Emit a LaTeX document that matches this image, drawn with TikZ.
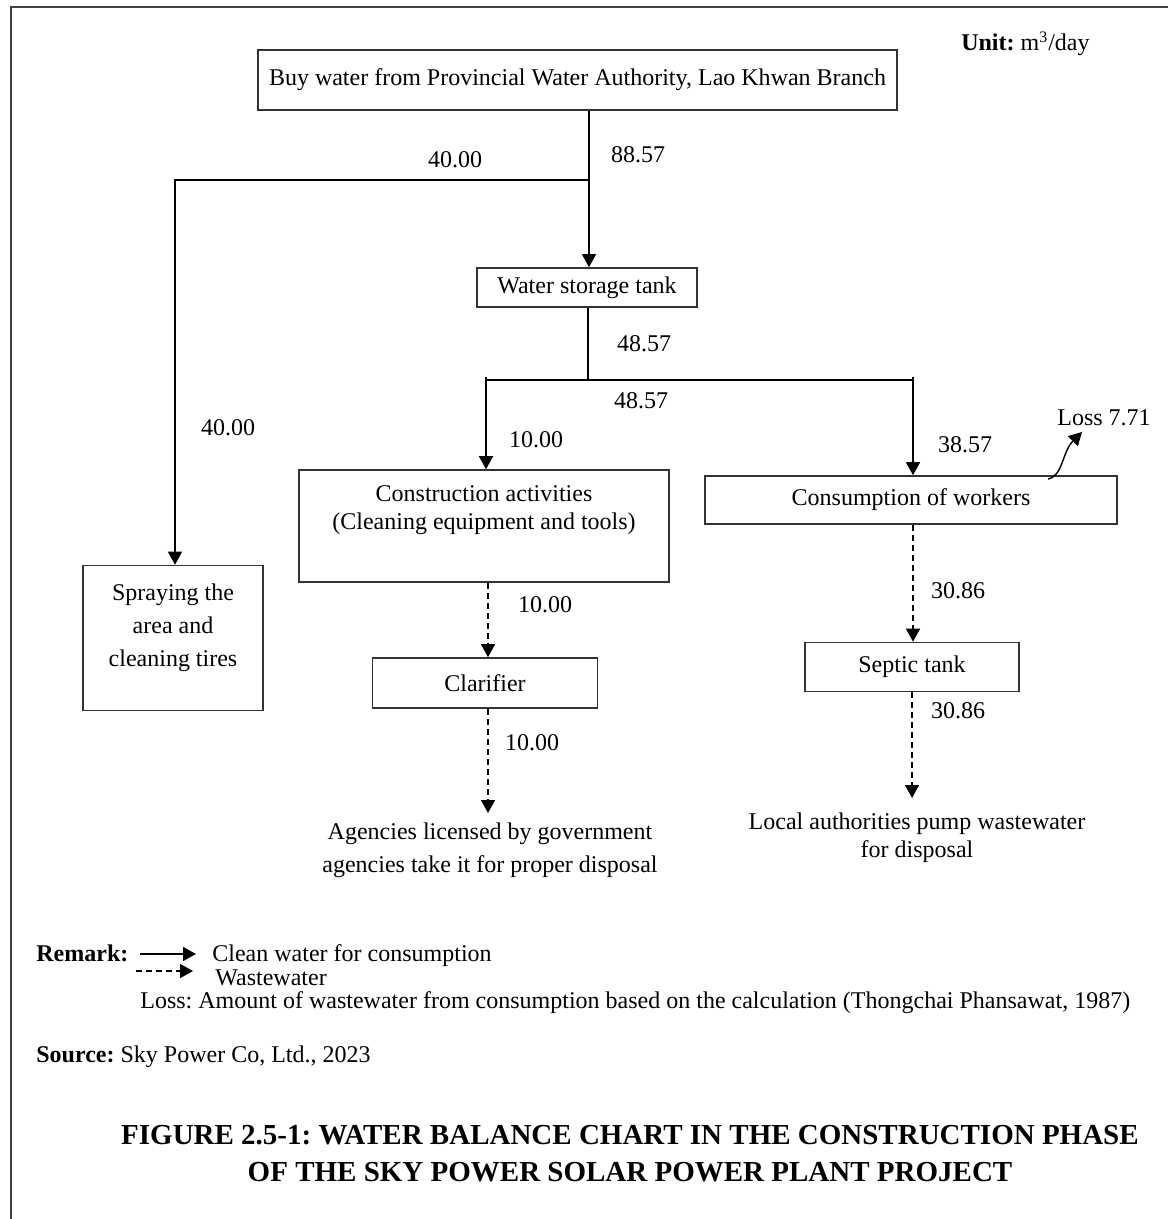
\documentclass[tikz,border=0pt]{standalone}
\usepackage{fontspec}
\setmainfont{Liberation Serif}
\usetikzlibrary{arrows.meta}
\begin{document}
\frenchspacing
\begin{tikzpicture}[x=0.5pt,y=-0.5pt,
  every node/.style={font=\fontsize{12}{16.5}\selectfont, inner sep=0pt},
  box/.style={draw=black!80, line width=0.8pt},
  flow/.style={line width=0.7pt, -{Triangle[length=6.5pt,width=7pt]}},
  plain/.style={line width=0.7pt},
  waste/.style={flow, dash pattern=on 3pt off 2pt},
  lbl/.style={anchor=center},
  frameline/.style={draw=black!75, line width=1pt}]
\useasboundingbox (0,0) rectangle (1168,1219);
% frame
\coordinate (fTL) at (11,7);
\coordinate (fTR) at (1168,7);
\coordinate (fBL) at (11,1219);
\draw[frameline] (fBL) -- (fTL) -- (fTR);

\node[anchor=base east] (unit) at (1090,51) {\textbf{Unit:} m\textsuperscript{3}/day};

% boxes
\node[box, minimum width=319.5pt, minimum height=30pt] (buy) at (577.5,80) {Buy water from Provincial Water Authority, Lao Khwan Branch};
\node[box, minimum width=110pt, minimum height=19.5pt] (stor) at (587,287.5) {Water storage tank};
\node[box, minimum width=185pt, minimum height=56pt] (cons) at (484,526) {};
\node[align=center, font=\fontsize{12}{13.8}\selectfont] (constext) at (484,510) {Construction activities\\(Cleaning equipment and tools)};
\node[box, minimum width=206pt, minimum height=24pt] (work) at (911,500) {Consumption of workers};
\node[box, minimum width=90pt, minimum height=72.5pt] (spray) at (173,638) {};
\node[align=center] (spraytext) at (173,628) {Spraying the\\area and\\cleaning tires};
\node[box, minimum width=112.5pt, minimum height=25pt] (clar) at (485,683) {Clarifier};
\node[box, minimum width=107pt, minimum height=24.5pt] (sept) at (912,667) {Septic tank};

\node[align=center] (agency) at (490,850) {Agencies licensed by government\\agencies take it for proper disposal};
\node[align=center, font=\fontsize{12}{14}\selectfont] (local) at (917,838) {Local authorities pump wastewater\\for disposal};

% junctions
\coordinate (j1) at (589,180);
\coordinate (jsp) at (175,180);
\coordinate (j2) at (588,380);
\coordinate (jl) at (486,380);
\coordinate (jr) at (913,380);
\coordinate (dc) at (488,0);
\coordinate (ds) at (913,0);
\coordinate (endA) at (488,813);
\coordinate (endB) at (912,798);

% clean water lines
\draw[flow] (buy.south -| j1) -- (stor.north -| j1);
\draw[flow] (j1) -- (jsp) -- (spray.north -| jsp);
\draw[plain] (stor.south -| j2) -- (j2);
\draw[plain] ([yshift=1.5pt]jl) -- (jl) -- (jr) -- ([yshift=1.5pt]jr);
\draw[flow] (jl) -- (cons.north -| jl);
\draw[flow] (jr) -- (work.north -| jr);
% loss
\coordinate (lossS) at (1048,479);
\coordinate (lossE) at (1082,432);
\draw[flow] (lossS) .. controls (1063,476) and (1062,452) .. (lossE);

% wastewater
\draw[waste] (cons.south -| dc) -- (clar.north -| dc);
\draw[waste] (clar.south -| dc) -- (endA);
\draw[waste] (work.south -| ds) -- (sept.north -| ds);
\draw[waste] (sept.south -| endB) -- (endB);

% labels
\node[lbl] (l1) at (455,160) {40.00};
\node[lbl] (l2) at (638,155) {88.57};
\node[lbl] (l3) at (644,344) {48.57};
\node[lbl] (l4) at (641,401) {48.57};
\node[lbl] (l5) at (536,440) {10.00};
\node[lbl] (l6) at (228,428) {40.00};
\node[lbl] (l7) at (965,445) {38.57};
\node[lbl] (l8) at (1104,418) {Loss 7.71};
\node[lbl] (l9) at (545,605) {10.00};
\node[lbl] (l10) at (532,743) {10.00};
\node[lbl] (l11) at (958,591) {30.86};
\node[lbl] (l12) at (958,711) {30.86};

% remark
\node[anchor=base west] (remark) at (36,961) {\textbf{Remark:}};
\coordinate (rs1) at (140,954);
\coordinate (re1) at (196,954);
\coordinate (rs2) at (136,971);
\coordinate (re2) at (193,971);
\draw[flow] (rs1) -- (re1);
\draw[waste] (rs2) -- (re2);
\node[anchor=base west] (rm1) at (212,961) {Clean water for consumption};
\node[anchor=base west] (rm2) at (215,985) {Wastewater};
\node[anchor=base west] (rm3) at (140,1008) {Loss: Amount of wastewater from consumption based on the calculation (Thongchai Phansawat, 1987)};
\node[anchor=base west] (src) at (36,1062) {\textbf{Source:} Sky Power Co, Ltd., 2023};

\node[align=center, font=\fontsize{14.5}{18.5}\selectfont\bfseries] (title) at (630,1154) {FIGURE 2.5-1: WATER BALANCE CHART IN THE CONSTRUCTION PHASE\\OF THE SKY POWER SOLAR POWER PLANT PROJECT};
\end{tikzpicture}
\end{document}
